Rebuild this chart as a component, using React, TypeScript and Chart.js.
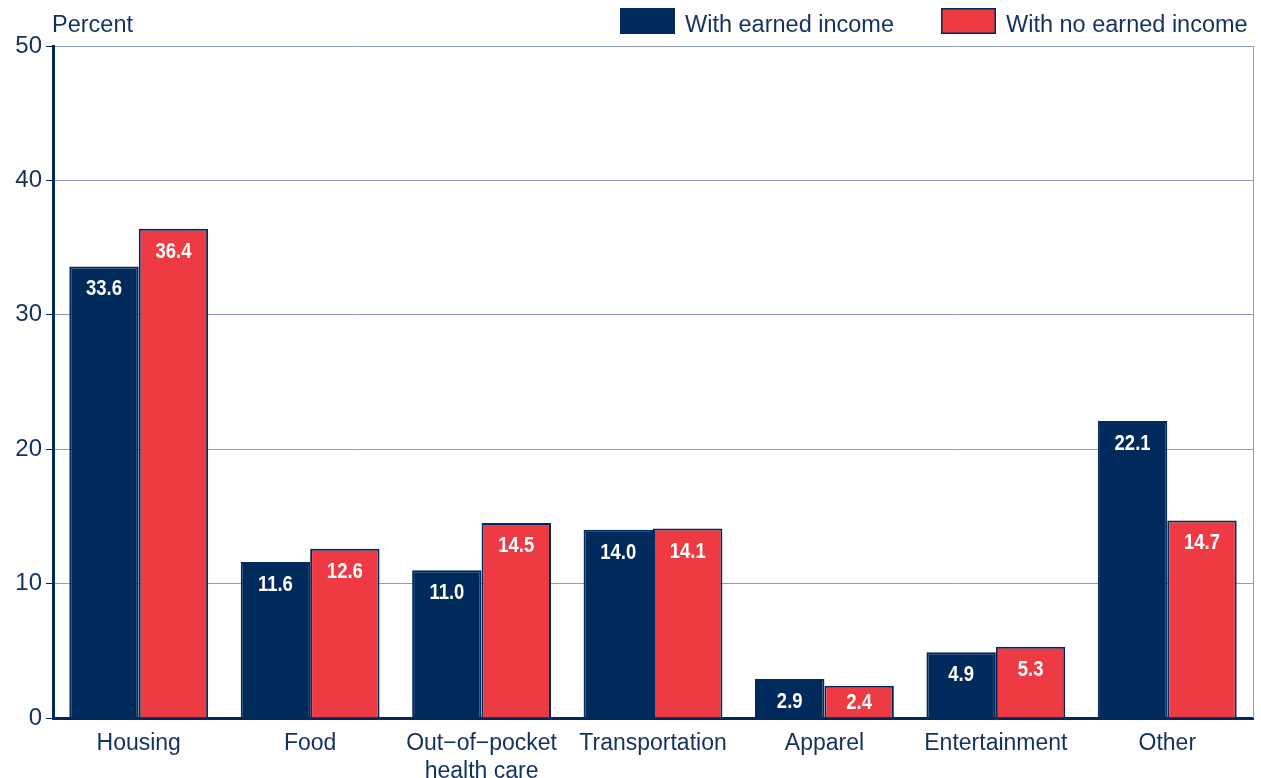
import React, { useEffect, useRef } from "react";
import { Chart, registerables } from "chart.js";

Chart.register(...registerables);

const categories: (string | string[])[] = [
  "Housing",
  "Food",
  ["Out\u2212of\u2212pocket", "health care"],
  "Transportation",
  "Apparel",
  "Entertainment",
  "Other",
];
const withEarned = [33.6, 11.6, 11.0, 14.0, 2.9, 4.9, 22.1];
const withNoEarned = [36.4, 12.6, 14.5, 14.1, 2.4, 5.3, 14.7];
const seriesNames = ["With earned income", "With no earned income"];
const yTicks = [0, 10, 20, 30, 40, 50];

const NAVY = "#002a5c";
const RED = "#ee3a43";
const TEXT = "#12315f";
const GRID = "#8c9dc2";
const FONT = "'Liberation Sans', Arial, sans-serif";

const overlayPlugin = {
  id: "overlay",
  afterDatasetsDraw(chart: any) {
    const ctx = chart.ctx;
    const a = chart.chartArea;
    ctx.save();
    // value labels
    ctx.fillStyle = "#ffffff";
    ctx.font = `bold 22px ${FONT}`;
    ctx.textAlign = "center";
    ctx.textBaseline = "middle";
    const sx = 0.84;
    chart.data.datasets.forEach((ds: any, di: number) => {
      const meta = chart.getDatasetMeta(di);
      meta.data.forEach((bar: any, i: number) => {
        const v = ds.data[i];
        const y = Math.min(bar.y + 23, a.bottom - 15);
        ctx.save();
        ctx.translate(bar.x, y);
        ctx.scale(sx, 1);
        ctx.fillText(v.toFixed(1), 0, 0);
        ctx.restore();
      });
    });
    // right frame line
    ctx.strokeStyle = GRID;
    ctx.lineWidth = 1;
    ctx.beginPath();
    ctx.moveTo(a.right + 0.5, a.top);
    ctx.lineTo(a.right + 0.5, a.bottom);
    ctx.stroke();
    ctx.restore();
  },
  afterDraw(chart: any) {
    const ctx = chart.ctx;
    ctx.save();
    ctx.fillStyle = TEXT;
    ctx.font = `23.5px ${FONT}`;
    ctx.textAlign = "left";
    ctx.textBaseline = "middle";
    ctx.fillText("Percent", 52, 26);
    // legend
    const items = [
      { x: 620, color: NAVY, label: seriesNames[0] },
      { x: 941, color: RED, label: seriesNames[1] },
    ];
    items.forEach((it) => {
      ctx.fillStyle = it.color;
      ctx.fillRect(it.x, 8, 55, 26);
      ctx.strokeStyle = NAVY;
      ctx.lineWidth = 1.5;
      ctx.strokeRect(it.x + 0.75, 8.75, 53.5, 24.5);
      ctx.fillStyle = TEXT;
      ctx.fillText(it.label, it.x + 65, 26);
    });
    ctx.restore();
  },
};

export default function App() {
  const ref = useRef<HTMLCanvasElement>(null);
  useEffect(() => {
    if (!ref.current) return;
    const chart = new Chart(ref.current, {
      type: "bar",
      data: {
        labels: categories,
        datasets: [
          {
            label: seriesNames[0],
            data: withEarned,
            backgroundColor: NAVY,
            borderColor: NAVY,
            borderWidth: 2,
            categoryPercentage: 0.81,
            barPercentage: 1,
          },
          {
            label: seriesNames[1],
            data: withNoEarned,
            backgroundColor: RED,
            borderColor: NAVY,
            borderWidth: 2,
            categoryPercentage: 0.81,
            barPercentage: 1,
          },
        ],
      },
      options: {
        animation: false,
        responsive: false,
        maintainAspectRatio: false,
        layout: { padding: { top: 46, right: 8, left: 0, bottom: 0 } },
        plugins: { legend: { display: false }, tooltip: { enabled: false }, title: { display: false } },
        scales: {
          x: {
            grid: { display: false, drawTicks: false },
            border: { display: true, color: NAVY, width: 3 },
            ticks: {
              color: TEXT,
              font: { family: FONT, size: 23 },
              padding: 12,
              maxRotation: 0,
              autoSkip: false,
            },
            afterFit: (s: any) => {
              s.height = 60;
            },
          },
          y: {
            min: 0,
            max: 50,
            afterBuildTicks: (s: any) => {
              s.ticks = yTicks.map((v) => ({ value: v }));
            },
            grid: { color: GRID, lineWidth: 1, tickColor: NAVY, tickLength: 7 },
            border: { display: true, color: NAVY, width: 3 },
            ticks: {
              color: TEXT,
              font: { family: FONT, size: 24 },
              padding: 4,
            },
            afterFit: (s: any) => {
              s.width = 53;
            },
          },
        },
      },
      plugins: [overlayPlugin],
    });
    return () => chart.destroy();
  }, []);
  return (
    <div style={{ position: "fixed", left: 0, top: 0, width: 1261, height: 778, background: "#fff" }}>
      <canvas ref={ref} width={1261} height={778} style={{ width: 1261, height: 778 }} />
    </div>
  );
}
